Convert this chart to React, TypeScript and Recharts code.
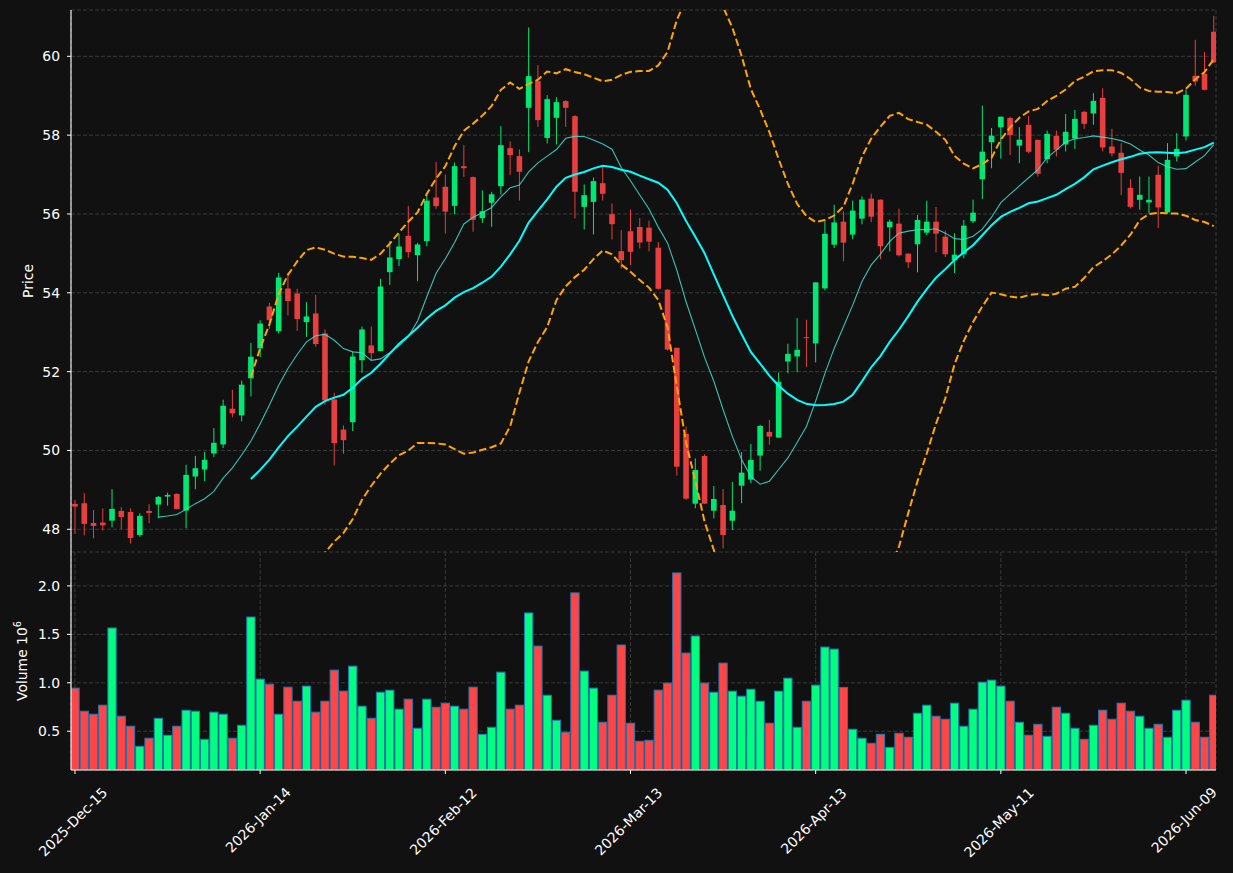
import React from 'react';
import { ComposedChart, Bar, Line, XAxis, YAxis, CartesianGrid } from 'recharts';

const opens = [48.644,48.661,48.161,48.17,48.22,48.466,48.44,47.856,48.466,48.627,48.83,48.898,48.475,49.339,49.517,49.924,50.153,51.06,50.89,51.83,52.59,53.653,53.028,54.11,53.983,53.256,53.476,52.969,51.295,50.53,50.718,52.29,52.664,52.52,54.524,54.854,55.445,54.955,55.31,56.418,56.69,56.206,57.213,56.934,55.893,56.283,56.705,57.67,57.467,58.694,59.37,57.93,58.44,58.863,58.482,56.181,56.308,56.782,55.995,55.056,55.563,55.67,55.653,55.145,54.078,52.605,50.42,48.65,49.861,48.472,48.616,48.218,49.108,49.26,49.87,50.471,50.327,52.257,52.384,52.875,52.715,54.112,55.221,55.805,55.476,55.882,56.389,56.364,55.662,55.755,54.994,55.23,55.526,55.805,55.425,54.825,54.977,55.814,56.88,57.818,58.199,58.436,57.735,58.262,57.882,57.391,57.983,57.763,57.915,58.592,58.55,58.947,57.712,57.552,56.664,56.359,56.292,56.994,56.038,57.459,57.966,59.505,59.556,60.622];
const highs = [48.746,48.915,48.49,48.53,49.017,48.56,48.53,48.407,48.636,48.847,48.93,48.915,49.636,49.864,49.966,50.568,51.288,51.54,51.77,52.73,53.305,53.746,54.507,54.507,54.101,53.763,53.949,53.07,51.464,50.634,52.504,53.146,53.146,54.355,55.31,55.488,56.206,55.268,56.477,57.32,57.0,57.306,57.746,56.95,56.6,56.56,58.228,57.84,57.636,60.733,59.777,59.015,58.964,58.888,58.508,56.748,56.926,57.196,56.266,55.589,56.113,55.895,55.83,55.289,54.095,52.605,50.606,49.8,49.903,49.099,49.023,49.2,49.963,50.166,50.649,50.776,51.978,52.706,53.359,53.316,54.264,55.813,56.232,56.068,56.338,56.448,56.516,56.364,55.856,56.135,54.994,55.975,56.338,56.178,55.577,55.51,55.848,56.364,58.748,58.182,58.469,58.469,58.2,58.49,57.882,58.118,58.118,58.533,58.643,58.617,59.066,59.192,58.16,57.797,56.884,56.951,56.951,57.222,57.797,58.051,59.15,60.419,60.106,61.03];
const lows = [47.88,47.847,47.77,47.97,48.05,48.0,47.64,47.81,48.153,48.28,48.6,48.508,48.025,49.017,49.22,49.83,50.06,50.84,50.737,51.37,52.37,53.087,52.969,53.425,53.036,52.884,52.631,51.16,49.62,49.916,50.49,51.97,52.29,52.52,54.2,54.676,54.89,54.296,55.18,56.13,55.505,55.995,56.94,55.547,55.775,55.673,56.494,56.993,56.342,57.569,58.21,57.788,57.763,58.21,55.885,55.606,55.479,56.342,55.352,54.616,54.7,55.124,55.05,54.078,52.537,49.36,48.743,48.532,48.642,48.278,47.516,47.98,48.659,49.167,49.489,50.149,50.327,51.961,51.986,52.12,52.232,54.061,55.136,54.8,55.357,55.738,55.789,54.858,55.053,54.926,54.63,54.52,55.459,55.027,54.909,54.5,54.875,55.772,56.381,57.159,57.404,57.497,57.29,57.543,56.951,57.29,57.459,57.586,57.645,58.16,58.262,57.586,57.459,56.478,56.14,56.106,56.021,55.64,56.021,57.332,57.865,59.252,59.133,59.827];
const closes = [48.576,48.136,48.085,48.1,48.517,48.314,47.78,48.339,48.415,48.822,48.873,48.517,49.381,49.55,49.763,50.195,51.136,50.94,51.67,52.38,53.22,53.307,54.389,53.789,53.332,53.4,52.698,51.27,50.186,50.262,52.385,53.07,52.47,54.16,54.896,55.175,55.03,55.226,56.34,56.198,56.06,57.213,57.162,55.851,56.07,56.5,57.746,57.492,57.07,59.497,58.38,58.914,58.838,58.694,56.562,56.477,56.832,56.511,55.741,54.827,55.039,55.275,55.297,54.103,52.562,49.59,48.777,49.505,48.65,48.769,47.854,48.472,49.438,49.76,50.623,50.352,51.741,52.452,52.554,52.86,54.264,55.5,55.785,55.273,56.085,56.364,55.932,55.18,55.805,54.951,54.774,55.848,55.805,55.501,54.977,54.968,55.704,56.034,57.581,57.987,58.469,58.004,57.884,57.577,57.019,58.034,57.628,58.085,58.414,58.288,58.871,57.687,57.535,57.044,56.182,56.486,56.359,56.165,57.374,57.653,59.023,59.362,59.15,59.844];
const volumes = [0.945,0.707,0.676,0.769,1.566,0.655,0.552,0.345,0.428,0.634,0.459,0.552,0.717,0.707,0.417,0.697,0.676,0.428,0.562,1.679,1.038,0.986,0.676,0.955,0.81,0.966,0.697,0.81,1.131,0.914,1.172,0.759,0.634,0.903,0.924,0.728,0.831,0.531,0.831,0.748,0.79,0.759,0.728,0.955,0.469,0.541,1.11,0.728,0.769,1.721,1.379,0.872,0.614,0.49,1.928,1.121,0.945,0.593,0.872,1.39,0.583,0.397,0.407,0.924,0.997,2.134,1.307,1.483,0.997,0.903,1.203,0.914,0.862,0.934,0.81,0.583,0.914,1.048,0.541,0.81,0.976,1.369,1.348,0.952,0.521,0.428,0.376,0.469,0.334,0.479,0.438,0.686,0.769,0.655,0.624,0.79,0.552,0.728,1.007,1.028,0.966,0.81,0.593,0.459,0.572,0.448,0.748,0.686,0.531,0.417,0.562,0.717,0.624,0.79,0.707,0.655,0.531,0.572,0.438,0.717,0.821,0.593,0.438,0.872];

const tickIdx = [0, 20, 40, 60, 80, 100, 120];
const tickLabels = ['2025-Dec-15', '2026-Jan-14', '2026-Feb-12', '2026-Mar-13', '2026-Apr-13', '2026-May-11', '2026-Jun-09'];
const priceTicks = [48, 50, 52, 54, 56, 58, 60];
const volumeTicks = [0.5, 1.0, 1.5, 2.0];

const X_DOMAIN: [number, number] = [-0.432, 123.24];
const PRICE_DOMAIN: [number, number] = [47.424, 61.175];
const VOL_DOMAIN: [number, number] = [0.1, 2.35];
const PLOT_W = 1145;
const BAND = PLOT_W / (X_DOMAIN[1] - X_DOMAIN[0]);

const UP = '#00ff7f';
const DOWN = '#ff4545';
const EDGE = '#1f77b4';
const FONT = 'DejaVu Sans';
const FS = 13.9;
const TXT = '#ffffff';
const GRID = '#3a3a3a';

const rolling = (arr: number[], n: number, f: (w: number[]) => number) =>
  arr.map((_, i) => (i < n - 1 ? null : f(arr.slice(i - n + 1, i + 1))));
const mean = (w: number[]) => w.reduce((a, b) => a + b, 0) / w.length;
const sd = (w: number[]) => {
  const m = mean(w);
  return Math.sqrt(w.reduce((a, b) => a + (b - m) * (b - m), 0) / w.length);
};
const ma10 = rolling(closes, 10, mean);
const ma20 = rolling(closes, 20, mean);
const sd20 = rolling(closes, 20, sd);

const data = closes.map((c, i) => ({
  i,
  open: opens[i],
  high: highs[i],
  low: lows[i],
  close: c,
  volume: volumes[i],
  ma10: ma10[i],
  ma20: ma20[i],
  bbUp: ma20[i] == null ? null : (ma20[i] as number) + 2 * (sd20[i] as number),
  bbLo: ma20[i] == null ? null : (ma20[i] as number) - 2 * (sd20[i] as number),
}));

const Candle = (props: any) => {
  const { x, y, width, height, payload } = props;
  if (!payload) return null;
  const { open, close, high, low } = payload;
  const cx = x + width / 2;
  const yTop = Math.min(y, y + height);
  const yBot = Math.max(y, y + height);
  const span = high - low;
  const py = (v: number) => (span > 0 ? yTop + ((high - v) / span) * (yBot - yTop) : yTop);
  const up = close >= open;
  const color = up ? UP : DOWN;
  const bTop = py(Math.max(open, close));
  const bBot = py(Math.min(open, close));
  return (
    <g opacity={0.9}>
      <line x1={cx} x2={cx} y1={yTop} y2={yBot} stroke={color} strokeWidth={1} />
      <rect x={cx - 2.8} y={bTop} width={5.6} height={Math.max(bBot - bTop, 1)} fill={color} />
    </g>
  );
};

const VolBar = (props: any) => {
  const { x, y, width, height, payload } = props;
  if (!payload) return null;
  const cx = x + width / 2;
  const up = payload.close >= payload.open;
  const w = 8.3;
  return <rect x={cx - w / 2} y={y} width={w} height={height} fill={up ? UP : DOWN} stroke={EDGE} strokeWidth={1} />;
};

const CW: Record<string, number> = {
  '0': 0.636, '1': 0.636, '2': 0.636, '3': 0.636, '4': 0.636, '5': 0.636, '6': 0.636, '7': 0.636, '8': 0.636, '9': 0.636,
  '-': 0.361, D: 0.77, e: 0.615, c: 0.55, J: 0.295, a: 0.613, n: 0.634, F: 0.575, b: 0.635, M: 0.863, r: 0.411, A: 0.684, p: 0.635, y: 0.592, u: 0.634,
};
const textLen = (s: string) => s.split('').reduce((a, ch) => a + (CW[ch] ?? 0.6), 0) * FS;

const DateTick = (props: any) => {
  const { x, y, payload } = props;
  const k = tickIdx.indexOf(payload.value);
  const label = k >= 0 ? tickLabels[k] : '';
  const L = textLen(label);
  const cx = x - 2;
  const cy = y + 16 + L * 0.3535;
  return (
    <text x={cx} y={cy} transform={`rotate(-45, ${cx}, ${cy})`} textAnchor="middle" dominantBaseline="central" fill={TXT} fontSize={FS} fontFamily={FONT}>
      {label}
    </text>
  );
};

const PriceLabel = (props: any) => {
  const vb = props.viewBox || { y: 10, height: 542 };
  const x = 32.5;
  const cy = vb.y + vb.height / 2;
  return (
    <text x={x} y={cy} transform={`rotate(-90, ${x}, ${cy})`} textAnchor="middle" fill={TXT} fontSize={FS} fontFamily={FONT}>
      Price
    </text>
  );
};

const VolumeLabel = (props: any) => {
  const vb = props.viewBox || { y: 0, height: 218 };
  const x = 27;
  const cy = vb.y + vb.height / 2;
  return (
    <text x={x} y={cy} transform={`rotate(-90, ${x}, ${cy})`} textAnchor="middle" fill={TXT} fontSize={FS} fontFamily={FONT}>
      <tspan>Volume 10</tspan>
      <tspan dy={-6} fontSize={9.7}>6</tspan>
    </text>
  );
};

const tickStyle = { fill: TXT, fontSize: FS, fontFamily: FONT };

export default function App() {
  return (
    <div style={{ position: 'absolute', left: 0, top: 0, width: 1233, height: 873, background: '#111111', overflow: 'hidden', fontFamily: FONT }}>
      <div style={{ position: 'absolute', left: 0, top: 0 }}>
        <ComposedChart width={1233} height={552} data={data} margin={{ top: 10, right: 17, bottom: 0, left: 0 }}>
          <CartesianGrid stroke={GRID} strokeDasharray="4 2" strokeWidth={1} />
          <XAxis dataKey="i" type="number" domain={X_DOMAIN} allowDataOverflow ticks={tickIdx} interval={0} height={0} tick={false} tickLine={false} axisLine={{ stroke: '#fff', strokeWidth: 1.1 }} />
          <XAxis xAxisId="top" orientation="top" type="number" domain={X_DOMAIN} allowDataOverflow height={0} tick={false} tickLine={false} axisLine={{ stroke: '#fff', strokeWidth: 1.1 }} />
          <YAxis type="number" domain={PRICE_DOMAIN} allowDataOverflow ticks={priceTicks} interval={0} width={71} tickSize={4} tickMargin={7} tick={tickStyle} tickLine={{ stroke: '#fff' }} axisLine={{ stroke: '#fff', strokeWidth: 1.1 }} label={<PriceLabel />} />
          <YAxis yAxisId="right" orientation="right" type="number" domain={[0, 1]} width={0} tick={false} tickLine={false} axisLine={{ stroke: '#fff', strokeWidth: 1.1 }} />
          <Bar dataKey={(d: any) => [d.low, d.high]} barSize={BAND - 4 - 0.001} shape={<Candle />} isAnimationActive={false} />
          <Line type="linear" dataKey="bbUp" stroke="#ffa500" strokeWidth={2} strokeDasharray="7.5 3.3" dot={false} activeDot={false} isAnimationActive={false} connectNulls={false} />
          <Line type="linear" dataKey="bbLo" stroke="#ffa500" strokeWidth={2} strokeDasharray="7.5 3.3" dot={false} activeDot={false} isAnimationActive={false} connectNulls={false} />
          <Line type="linear" dataKey="ma10" stroke="#40e0d0" strokeOpacity={0.85} strokeWidth={1.1} dot={false} activeDot={false} isAnimationActive={false} connectNulls={false} />
          <Line type="linear" dataKey="ma20" stroke="#00ffff" strokeWidth={2} dot={false} activeDot={false} isAnimationActive={false} connectNulls={false} />
        </ComposedChart>
      </div>
      <div style={{ position: 'absolute', left: 0, top: 552 }}>
        <ComposedChart width={1233} height={321} data={data} margin={{ top: 0, right: 17, bottom: 0, left: 0 }}>
          <CartesianGrid stroke={GRID} strokeDasharray="4 2" strokeWidth={1} />
          <XAxis dataKey="i" type="number" domain={X_DOMAIN} allowDataOverflow ticks={tickIdx} interval={0} height={103} tickSize={4} tickMargin={0} tick={<DateTick />} tickLine={{ stroke: '#fff' }} axisLine={{ stroke: '#fff', strokeWidth: 1.1 }} />
          <XAxis xAxisId="top" orientation="top" type="number" domain={X_DOMAIN} allowDataOverflow height={0} tick={false} tickLine={false} axisLine={{ stroke: '#fff', strokeWidth: 1.1 }} />
          <YAxis type="number" domain={VOL_DOMAIN} allowDataOverflow ticks={volumeTicks} interval={0} width={71} tickSize={4} tickMargin={7} tick={tickStyle} tickFormatter={(v: number) => v.toFixed(1)} tickLine={{ stroke: '#fff' }} axisLine={{ stroke: '#fff', strokeWidth: 1.1 }} label={<VolumeLabel />} />
          <YAxis yAxisId="right" orientation="right" type="number" domain={[0, 1]} width={0} tick={false} tickLine={false} axisLine={{ stroke: '#fff', strokeWidth: 1.1 }} />
          <Bar dataKey="volume" barSize={BAND - 0.001} shape={<VolBar />} isAnimationActive={false} />
        </ComposedChart>
      </div>
    </div>
  );
}
